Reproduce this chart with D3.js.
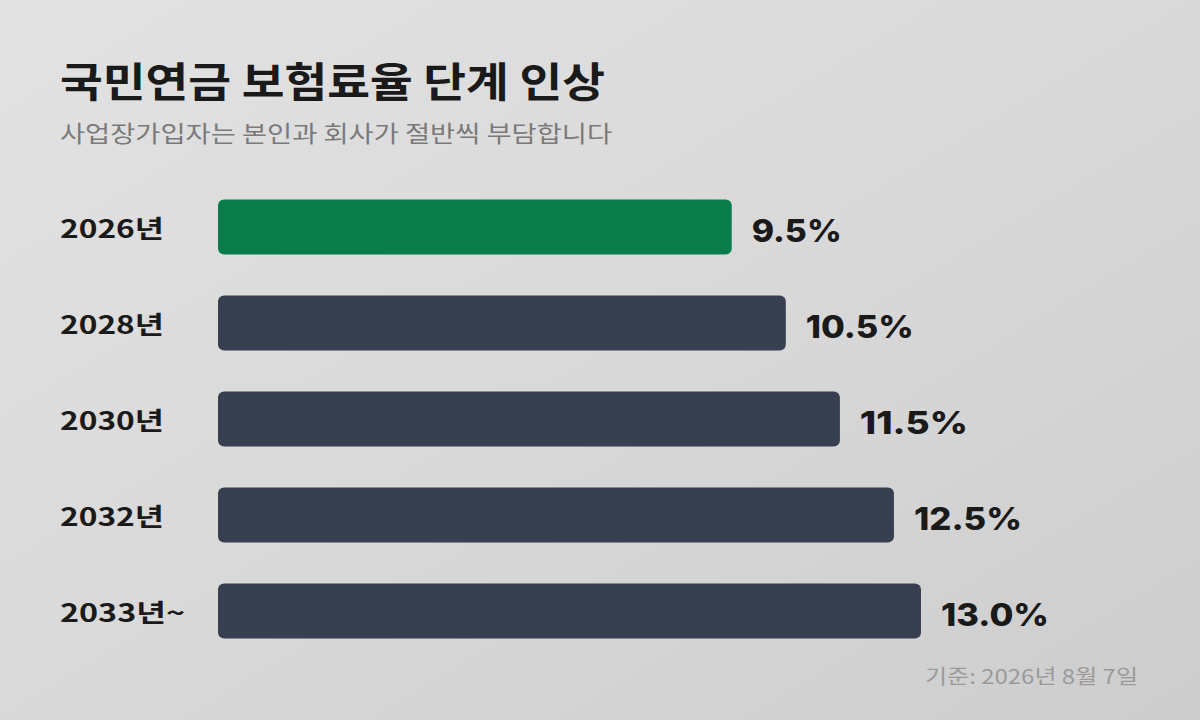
<!DOCTYPE html>
<html><head><meta charset="utf-8">
<script src="https://cdn.jsdelivr.net/npm/d3@7"></script>
<style>body{margin:0;}svg{display:block;font-family:"Noto Sans CJK KR","Noto Sans",sans-serif;}</style>
</head><body><svg id="c" width="1200" height="720"></svg>
<script>
const categories = ["2026년","2028년","2030년","2032년","2033년~"];
const values = [9.5,10.5,11.5,12.5,13.0];
const valueLabels = ["9.5%","10.5%","11.5%","12.5%","13.0%"];
const colors = ["#0a7c4c","#373f51","#373f51","#373f51","#373f51"];

const svg = d3.select("#c");
const defs = svg.append("defs");
const g = defs.append("linearGradient").attr("id","bg").attr("x1",0).attr("y1",0).attr("x2",1).attr("y2",1);
g.append("stop").attr("offset","0%").attr("stop-color","#e2e2e2");
g.append("stop").attr("offset","50%").attr("stop-color","#d9d9d9");
g.append("stop").attr("offset","100%").attr("stop-color","#cdcdcd");
svg.append("rect").attr("width",1200).attr("height",720).attr("fill","url(#bg)");

const x = d3.scaleLinear().domain([0,13]).range([218,921]);
const y = d3.scaleBand().domain(categories).range([179,659]).paddingInner(0.427).paddingOuter(0.2135);

svg.append("text").attr("x",60).attr("y",97).attr("font-size",41).attr("font-weight",700).attr("fill","#1a1a1a")
  .attr("textLength",545).attr("lengthAdjust","spacingAndGlyphs").text("국민연금 보험료율 단계 인상");
svg.append("text").attr("x",60).attr("y",142).attr("font-size",23).attr("fill","#7a7a7a")
  .attr("textLength",552).attr("lengthAdjust","spacingAndGlyphs").text("사업장가입자는 본인과 회사가 절반씩 부담합니다");

const rows = svg.selectAll("g.row").data(categories).join("g");
rows.append("rect").attr("x",x(0)).attr("y",d=>y(d)).attr("height",y.bandwidth())
  .attr("width",(d,i)=>x(values[i])-x(0)).attr("rx",6).attr("fill",(d,i)=>colors[i]);
rows.append("text").attr("x",60).attr("y",d=>y(d)+y.bandwidth()/2+2).attr("dy","0.35em")
  .attr("font-size",25).attr("font-weight",600).attr("fill","#1a1a1a")
  .attr("textLength",(d,i)=>i===4?125:104).attr("lengthAdjust","spacingAndGlyphs").text(d=>d);
rows.append("text").attr("x",(d,i)=>x(values[i])+20).attr("y",d=>y(d)+y.bandwidth()/2+4).attr("dy","0.35em")
  .attr("font-size",31).attr("font-weight",800).attr("fill","#1a1a1a").attr("font-family","Inter,'Noto Sans CJK KR',sans-serif")
  .attr("textLength",(d,i)=>i===0?90:108).attr("lengthAdjust","spacingAndGlyphs").text((d,i)=>valueLabels[i]);

svg.append("text").attr("x",1138).attr("y",684).attr("text-anchor","end").attr("font-size",20).attr("fill","#9a9a9a")
  .attr("textLength",213).attr("lengthAdjust","spacingAndGlyphs").text("기준: 2026년 8월 7일");
</script></body></html>
